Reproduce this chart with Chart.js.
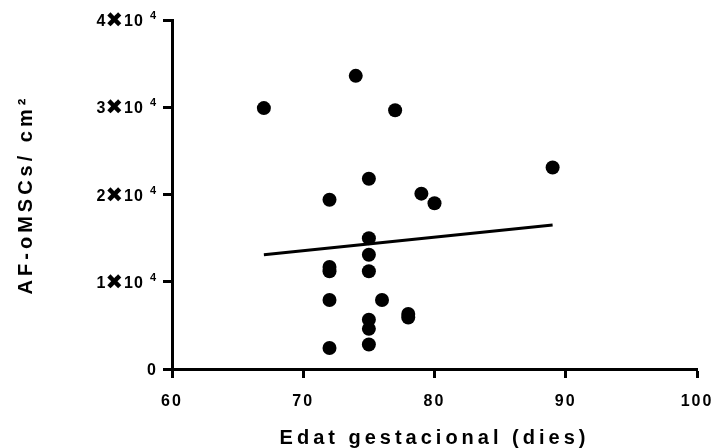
<!DOCTYPE html>
<html>
<head>
<meta charset="utf-8">
<script src="https://cdn.jsdelivr.net/npm/chart.js@4"></script>
<style>
	html, body { margin: 0; padding: 0; background: #fff; }
	#wrap { width: 716px; height: 448px; }
</style>
</head>
<body>
<div id="wrap"><canvas id="myChart" width="716" height="448"></canvas></div>
<script>
// Data
const gestAge = [67, 74, 77, 89, 75, 72, 79, 80, 75, 75, 72, 72, 75, 72, 76, 78, 78, 75, 75, 75, 72];
const cellsPerCm2 = [29900, 33600, 29650, 23100, 21800, 19400, 20100, 19000, 15000, 13100, 11700, 11200, 11200, 7900, 7900, 6300, 5900, 5650, 4600, 2800, 2400];
const yTickMantissa = ["0", "1", "2", "3", "4"];
const yTickExponent = "4";
const xTitle = "Edat gestacional (dies)";
const yTitle = "AF-oMSCs/ cm\u00b2";

document.addEventListener("DOMContentLoaded", function () {
	const points = gestAge.map((x, i) => ({ x: x, y: cellsPerCm2[i] }));

	// linear regression line (least squares) over the range of x
	const n = gestAge.length;
	const mx = gestAge.reduce((a, b) => a + b, 0) / n;
	const my = cellsPerCm2.reduce((a, b) => a + b, 0) / n;
	let sxy = 0, sxx = 0;
	gestAge.forEach((x, i) => {
		sxy += (x - mx) * (cellsPerCm2[i] - my);
		sxx += (x - mx) * (x - mx);
	});
	const slope = sxy / sxx;
	const x0 = Math.min(...gestAge);
	const x1 = Math.max(...gestAge);
	const fit = [
		{ x: x0, y: my + slope * (x0 - mx) },
		{ x: x1, y: my + slope * (x1 - mx) },
	];

	const family = '"Liberation Sans", Arial, sans-serif';

	// letter spacing: 2px for tick labels, 4px for axis titles
	const spacing = {
		id: "spacing",
		afterUpdate(chart) {
			Object.values(chart.scales).forEach((s) => {
				if (s._spaced) return;
				const orig = s.drawTitle;
				s.drawTitle = function (area) {
					this.ctx.letterSpacing = "4px";
					orig.call(this, area);
					this.ctx.letterSpacing = "2px";
				};
				s._spaced = true;
			});
		},
		beforeDraw(chart) {
			chart.ctx.letterSpacing = "2px";
		},
	};

	// y tick labels like "4✖10⁴" drawn with mixed sizes
	const yLabels = {
		id: "yLabels",
		afterDraw(chart) {
			const ctx = chart.ctx;
			const scale = chart.scales.y;
			const right = scale.right - 9 - 6;
			const digit = "bold 16px " + family;
			const cross = "bold 21px 'DejaVu Sans', sans-serif";
			const sup = "bold 11px " + family;
			ctx.save();
			ctx.fillStyle = "#000";
			ctx.letterSpacing = "1px";
			scale.ticks.forEach((t, i) => {
				const y = scale.getPixelForValue(t.value);
				const m = yTickMantissa[i];
				const parts = m === "0"
					? [{ s: m, f: digit, dy: 6, gap: 0 }]
					: [
						{ s: m, f: digit, dy: 6, gap: 0 },
						{ s: "\u2716", f: cross, dy: 7, gap: -1 },
						{ s: "10", f: digit, dy: 6, gap: 0 },
						{ s: yTickExponent, f: sup, dy: -1, gap: 6 },
					];
				let total = 0;
				parts.forEach((p) => {
					ctx.font = p.f;
					p.w = ctx.measureText(p.s).width;
					total += p.w + p.gap;
				});
				let x = right - total;
				ctx.textAlign = "left";
				ctx.textBaseline = "alphabetic";
				parts.forEach((p) => {
					ctx.font = p.f;
					x += p.gap;
					ctx.fillText(p.s, x, y + p.dy);
					x += p.w;
				});
			});
			ctx.restore();
		},
	};

	const axisCommon = {
		grid: {
			display: true,
			drawOnChartArea: false,
			drawTicks: true,
			tickLength: 9,
			tickWidth: 3,
			color: "#000",
		},
		border: { display: true, width: 3, color: "#000" },
	};

	const config = {
		type: "scatter",
		data: {
			datasets: [
				{
					label: "data",
					data: points,
					pointRadius: 7,
					pointHoverRadius: 7,
					backgroundColor: "#000",
					borderColor: "#000",
					borderWidth: 0,
				},
				{
					label: "fit",
					type: "line",
					data: fit,
					borderColor: "#000",
					borderWidth: 3,
					pointRadius: 0,
					fill: false,
				},
			],
		},
		options: {
			responsive: false,
			animation: false,
			layout: { padding: { top: 20, right: 19, bottom: 0, left: 0 } },
			plugins: { legend: { display: false }, tooltip: { enabled: false } },
			scales: {
				x: {
					...axisCommon,
					type: "linear",
					min: 60,
					max: 100,
					ticks: {
						stepSize: 10,
						color: "#000",
						padding: 14,
						maxRotation: 0,
						font: { family: family, size: 16, weight: "bold" },
					},
					title: {
						display: true,
						text: xTitle,
						color: "#000",
						font: { family: family, size: 20, weight: "bold" },
						padding: { top: 0, bottom: -2 },
					},
					afterFit: (scale) => {
						scale.height = 79;
						scale.paddingLeft = 0;
						scale.paddingRight = 0;
					},
				},
				y: {
					...axisCommon,
					min: 0,
					max: 40000,
					ticks: {
						stepSize: 10000,
						display: false,
					},
					title: {
						display: true,
						text: yTitle,
						color: "#000",
						font: { family: family, size: 20, weight: "bold" },
						padding: { top: 14, bottom: 0 },
					},
					afterFit: (scale) => {
						scale.width = 172;
						scale.paddingTop = 0;
						scale.paddingBottom = 0;
					},
				},
			},
		},
		plugins: [spacing, yLabels],
	};

	var myChart = new Chart(document.getElementById("myChart"), config);
});
</script>
</body>
</html>
